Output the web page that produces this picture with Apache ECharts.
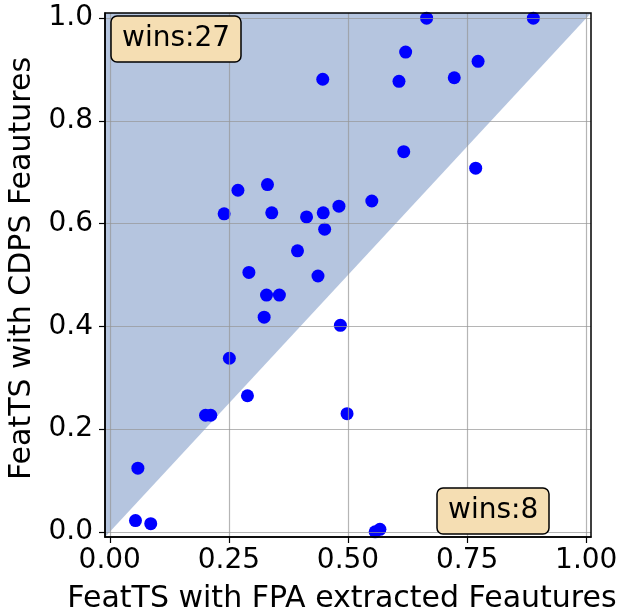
<!DOCTYPE html>
<html>
<head>
<meta charset="utf-8">
<script src="https://cdn.jsdelivr.net/npm/echarts@6/dist/echarts.min.js"></script>
<style>
  html, body { margin: 0; padding: 0; background: #fff; }
  #chart { width: 621px; height: 612px; }
</style>
</head>
<body>
<div id="chart"></div>
<script>
// Per-dataset scores: FeatTS with FPA extracted features (x) vs FeatTS with CDPS features (y)
const fpaScores = [
  0.447, 0.269, 0.331, 0.240, 0.340, 0.413, 0.448, 0.481, 0.451, 0.394,
  0.292, 0.437, 0.665, 0.889, 0.621, 0.773, 0.607, 0.723, 0.617, 0.550,
  0.329, 0.356, 0.324, 0.251, 0.201, 0.212, 0.059,
  0.768, 0.484, 0.289, 0.498, 0.054, 0.086, 0.557, 0.567
];
const cdpsScores = [
  0.881, 0.665, 0.676, 0.619, 0.621, 0.613, 0.621, 0.634, 0.589, 0.547,
  0.505, 0.498, 1.000, 1.000, 0.934, 0.916, 0.877, 0.884, 0.740, 0.644,
  0.461, 0.461, 0.418, 0.338, 0.227, 0.227, 0.124,
  0.708, 0.402, 0.265, 0.230, 0.022, 0.016, 0.000, 0.005
];

// Axis range and tick labels
const axisMin = -0.01;
const axisMax = 1.01;
const xTicks = [0, 0.25, 0.5, 0.75, 1.0];
const yTicks = [0, 0.2, 0.4, 0.6, 0.8, 1.0];
const xTickLabels = ['0.00', '0.25', '0.50', '0.75', '1.00'];
const yTickLabels = ['0.0', '0.2', '0.4', '0.6', '0.8', '1.0'];

// Identity line y = x across the axis range; region above it is shaded
const diagonal = [[axisMin, axisMin], [axisMax, axisMax]];

const points = fpaScores.map((x, i) => [x, cdpsScores[i]]);
const cdpsWins = points.filter(p => p[1] > p[0]).length;
const fpaWins = points.filter(p => p[0] > p[1]).length;

const FONT = 'DejaVu Sans';
const gridColor = 'rgba(150,150,150,0.7)';

const chart = echarts.init(document.getElementById('chart'), null, { renderer: 'canvas' });

const boxStyle = {
  backgroundColor: '#f5deb3',
  borderColor: '#000',
  borderWidth: 1.5,
  borderRadius: 6,
  padding: [9, 11, 9, 11],
  z: 20,
  textStyle: { fontFamily: FONT, fontSize: 28, fontWeight: 'normal', color: '#000' }
};

chart.setOption({
  animation: false,
  backgroundColor: '#fff',
  title: [
    Object.assign({ text: 'wins:' + cdpsWins, left: 111, top: 16 }, boxStyle),
    Object.assign({ text: 'wins:' + fpaWins, left: 437, top: 488 }, boxStyle)
  ],
  grid: {
    left: 105, right: 30, top: 13, bottom: 75,
    containLabel: false,
    outerBoundsMode: 'none',
    show: true, z: 10,
    borderColor: '#000', borderWidth: 1.5,
    backgroundColor: 'transparent'
  },
  xAxis: {
    type: 'value', min: axisMin, max: axisMax, z: 5,
    name: 'FeatTS with FPA extracted Feautures',
    nameLocation: 'middle', nameGap: 47,
    nameTextStyle: { fontFamily: FONT, fontSize: 30, color: '#000', padding: [0, 12, 0, 0] },
    axisLine: { show: true, onZero: false, lineStyle: { color: '#000', width: 1.5 } },
    axisTick: { show: true, length: 6, customValues: xTicks, lineStyle: { color: '#000', width: 1.2 } },
    axisLabel: {
      customValues: xTicks, margin: 10,
      fontFamily: FONT, fontSize: 28, color: '#000',
      formatter: v => xTickLabels[xTicks.indexOf(v)] ?? v.toFixed(2)
    },
    splitLine: { show: true, lineStyle: { color: gridColor, width: 1.2 } }
  },
  yAxis: {
    type: 'value', min: axisMin, max: axisMax, z: 5,
    name: 'FeatTS with CDPS Feautures',
    nameLocation: 'middle', nameGap: 57,
    nameTextStyle: { fontFamily: FONT, fontSize: 30, color: '#000', padding: [0, 0, 0, 13] },
    axisLine: { show: true, onZero: false, lineStyle: { color: '#000', width: 1.5 } },
    axisTick: { show: true, length: 6, customValues: yTicks, lineStyle: { color: '#000', width: 1.2 } },
    axisLabel: {
      customValues: yTicks, margin: 12,
      fontFamily: FONT, fontSize: 28, color: '#000',
      formatter: v => yTickLabels[yTicks.indexOf(v)] ?? v.toFixed(1)
    },
    splitLine: { show: true, lineStyle: { color: gridColor, width: 1.2 } }
  },
  series: [
    {
      type: 'line',
      data: diagonal,
      symbol: 'none',
      lineStyle: { width: 0 },
      areaStyle: { origin: 'end', color: '#b5c5df', opacity: 1 },
      silent: true,
      z: 1
    },
    {
      type: 'scatter',
      data: points,
      symbolSize: 13,
      itemStyle: { color: '#0000ff', opacity: 1 },
      clip: true,
      z: 3
    }
  ]
});
</script>
</body>
</html>
